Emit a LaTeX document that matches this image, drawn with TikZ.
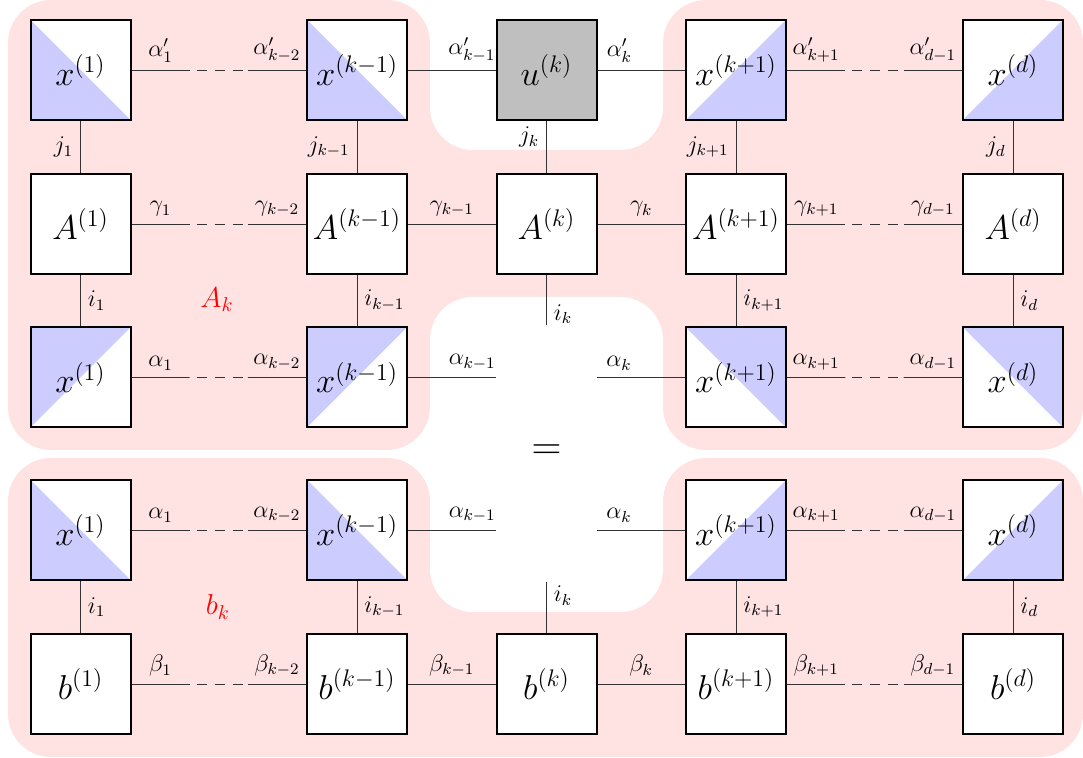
\documentclass[tikz,border=0pt]{standalone}
\usetikzlibrary{calc}
\newcommand\mainfs{\fontsize{17.28}{20}\selectfont}
\newcommand\labfs{\fontsize{12}{14}\selectfont}
\newcommand\redfs{\fontsize{14.4}{16}\selectfont}
\newcommand\eqfs{\fontsize{20.74}{24}\selectfont}
\colorlet{pinkbg}{red!11}
\colorlet{tribl}{blue!20}
\newcommand\dchain[4]{%
  \draw[conn] (#1.east) -- ($(#1.east)!1/3!(#2.west)$) node[lab,midway,above]{#3};
  \draw[conn,dash pattern=on 5pt off 4pt,dash phase=5.5pt] ($(#1.east)!1/3!(#2.west)$) -- ($(#1.east)!2/3!(#2.west)$);
  \draw[conn] ($(#1.east)!2/3!(#2.west)$) -- (#2.west) node[lab,midway,above]{#4};}
\begin{document}
\begin{tikzpicture}[x=0.5pt,y=-0.5pt,
  box/.style={draw=black, line width=1pt, minimum size=50pt, inner sep=0pt, fill=white, font=\mainfs},
  conn/.style={draw=black!80, line width=0.45pt},
  lab/.style={font=\labfs, inner sep=3.5pt},
  triBL/.style={path picture={\fill[tribl] (path picture bounding box.north west) -- (path picture bounding box.south west) -- (path picture bounding box.south east) -- cycle;}},
  triBR/.style={path picture={\fill[tribl] (path picture bounding box.south west) -- (path picture bounding box.south east) -- (path picture bounding box.north east) -- cycle;}},
  triTL/.style={path picture={\fill[tribl] (path picture bounding box.north west) -- (path picture bounding box.north east) -- (path picture bounding box.south west) -- cycle;}},
  triTR/.style={path picture={\fill[tribl] (path picture bounding box.north west) -- (path picture bounding box.north east) -- (path picture bounding box.south east) -- cycle;}},
  redlab/.style={text=red, font=\redfs, inner sep=0pt}
]
\useasboundingbox (0,0) rectangle (1083,758);
% backgrounds
\fill[pinkbg, rounded corners=21.5pt] (8,0) rectangle (430,450);
\fill[pinkbg, rounded corners=21.5pt] (663,0) rectangle (1083,450);
\fill[pinkbg] (380,95) rectangle (713,350);
\fill[white, rounded corners=21.5pt] (430,-60) rectangle (663,150);
\fill[pinkbg, rounded corners=21.5pt] (8,458) rectangle (430,757);
\fill[pinkbg, rounded corners=21.5pt] (663,458) rectangle (1083,757);
\fill[pinkbg] (380,555) rectangle (713,757);
\fill[white, rounded corners=21.5pt] (430,297) rectangle (663,612);

% row 1
\node[box,triBL] (x11) at (80.5,70) {$x^{(1)}$};
\node[box,triBL] (x1k1) at (357,70) {$x^{(k-1)}$};
\node[box,fill=gray!50] (u) at (546.5,70) {$u^{(k)}$};
\node[box,triBR] (x1kp) at (736,70) {$x^{(k+1)}$};
\node[box,triBR] (x1d) at (1013,70) {$x^{(d)}$};
% row 2
\node[box] (A1) at (80.5,224) {$A^{(1)}$};
\node[box] (Ak1) at (357,224) {$A^{(k-1)}$};
\node[box] (Ak) at (546.5,224) {$A^{(k)}$};
\node[box] (Akp) at (736,224) {$A^{(k+1)}$};
\node[box] (Ad) at (1013,224) {$A^{(d)}$};
% row 3
\node[box,triTL] (x31) at (80.5,377.5) {$x^{(1)}$};
\node[box,triTL] (x3k1) at (357,377.5) {$x^{(k-1)}$};
\node[box,triTR] (x3kp) at (736,377.5) {$x^{(k+1)}$};
\node[box,triTR] (x3d) at (1013,377.5) {$x^{(d)}$};
% row 4
\node[box,triBL] (x41) at (80.5,530) {$x^{(1)}$};
\node[box,triBL] (x4k1) at (357,530) {$x^{(k-1)}$};
\node[box,triBR] (x4kp) at (736,530) {$x^{(k+1)}$};
\node[box,triBR] (x4d) at (1013,530) {$x^{(d)}$};
% row 5
\node[box] (b1) at (80.5,684) {$b^{(1)}$};
\node[box] (bk1) at (357,684) {$b^{(k-1)}$};
\node[box] (bk) at (546.5,684) {$b^{(k)}$};
\node[box] (bkp) at (736,684) {$b^{(k+1)}$};
\node[box] (bd) at (1013,684) {$b^{(d)}$};

\coordinate (m3w) at (496,377.5);
\coordinate (m3e) at (597,377.5);
\coordinate (m4w) at (496,530);
\coordinate (m4e) at (597,530);
\coordinate (ikt) at (546.5,325);
\coordinate (ikb) at (546.5,582);

% horizontal connectors
\dchain{x11}{x1k1}{$\alpha'_1$}{$\alpha'_{k-2}$}
\draw[conn] (x1k1) -- (u) node[lab,pos=0.73,above]{$\alpha'_{k-1}$};
\draw[conn] (u) -- (x1kp) node[lab,pos=0.25,above]{$\alpha'_k$};
\dchain{x1kp}{x1d}{$\alpha'_{k+1}$}{$\alpha'_{d-1}$}

\dchain{A1}{Ak1}{$\gamma_1$}{$\gamma_{k-2}$}
\draw[conn] (Ak1) -- (Ak) node[lab,midway,above]{$\gamma_{k-1}$};
\draw[conn] (Ak) -- (Akp) node[lab,midway,above]{$\gamma_k$};
\dchain{Akp}{Ad}{$\gamma_{k+1}$}{$\gamma_{d-1}$}

\dchain{x31}{x3k1}{$\alpha_1$}{$\alpha_{k-2}$}
\draw[conn] (x3k1.east) -- (m3w) node[lab,pos=0.73,above]{$\alpha_{k-1}$};
\draw[conn] (m3e) -- (x3kp.west) node[lab,pos=0.25,above]{$\alpha_k$};
\dchain{x3kp}{x3d}{$\alpha_{k+1}$}{$\alpha_{d-1}$}

\dchain{x41}{x4k1}{$\alpha_1$}{$\alpha_{k-2}$}
\draw[conn] (x4k1.east) -- (m4w) node[lab,pos=0.73,above]{$\alpha_{k-1}$};
\draw[conn] (m4e) -- (x4kp.west) node[lab,pos=0.25,above]{$\alpha_k$};
\dchain{x4kp}{x4d}{$\alpha_{k+1}$}{$\alpha_{d-1}$}

\dchain{b1}{bk1}{$\beta_1$}{$\beta_{k-2}$}
\draw[conn] (bk1) -- (bk) node[lab,midway,above]{$\beta_{k-1}$};
\draw[conn] (bk) -- (bkp) node[lab,midway,above]{$\beta_k$};
\dchain{bkp}{bd}{$\beta_{k+1}$}{$\beta_{d-1}$}

% vertical connectors
\draw[conn] (x11) -- (A1) node[lab,midway,left]{$j_1$};
\draw[conn] (x1k1) -- (Ak1) node[lab,midway,left]{$j_{k-1}$};
\draw[conn] (u) -- (Ak) node[lab,pos=0.31,left]{$j_k$};
\draw[conn] (x1kp) -- (Akp) node[lab,midway,left]{$j_{k+1}$};
\draw[conn] (x1d) -- (Ad) node[lab,midway,left]{$j_d$};

\draw[conn] (A1) -- (x31) node[lab,midway,right]{$i_1$};
\draw[conn] (Ak1) -- (x3k1) node[lab,midway,right]{$i_{k-1}$};
\draw[conn] (Ak.south) -- (ikt) node[lab,pos=0.78,right]{$i_k$};
\draw[conn] (Akp) -- (x3kp) node[lab,midway,right]{$i_{k+1}$};
\draw[conn] (Ad) -- (x3d) node[lab,midway,right]{$i_d$};

\draw[conn] (x41) -- (b1) node[lab,midway,right]{$i_1$};
\draw[conn] (x4k1) -- (bk1) node[lab,midway,right]{$i_{k-1}$};
\draw[conn] (ikb) -- (bk.north) node[lab,pos=0.27,right]{$i_k$};
\draw[conn] (x4kp) -- (bkp) node[lab,midway,right]{$i_{k+1}$};
\draw[conn] (x4d) -- (bd) node[lab,midway,right]{$i_d$};

% red labels and equality
\node[redlab] (redA) at (217,300) {$A_k$};
\node[redlab] (redb) at (218,607) {$b_k$};
\node[font=\eqfs, inner sep=0pt] (eq) at (546.5,452) {$=$};
\end{tikzpicture}
\end{document}
